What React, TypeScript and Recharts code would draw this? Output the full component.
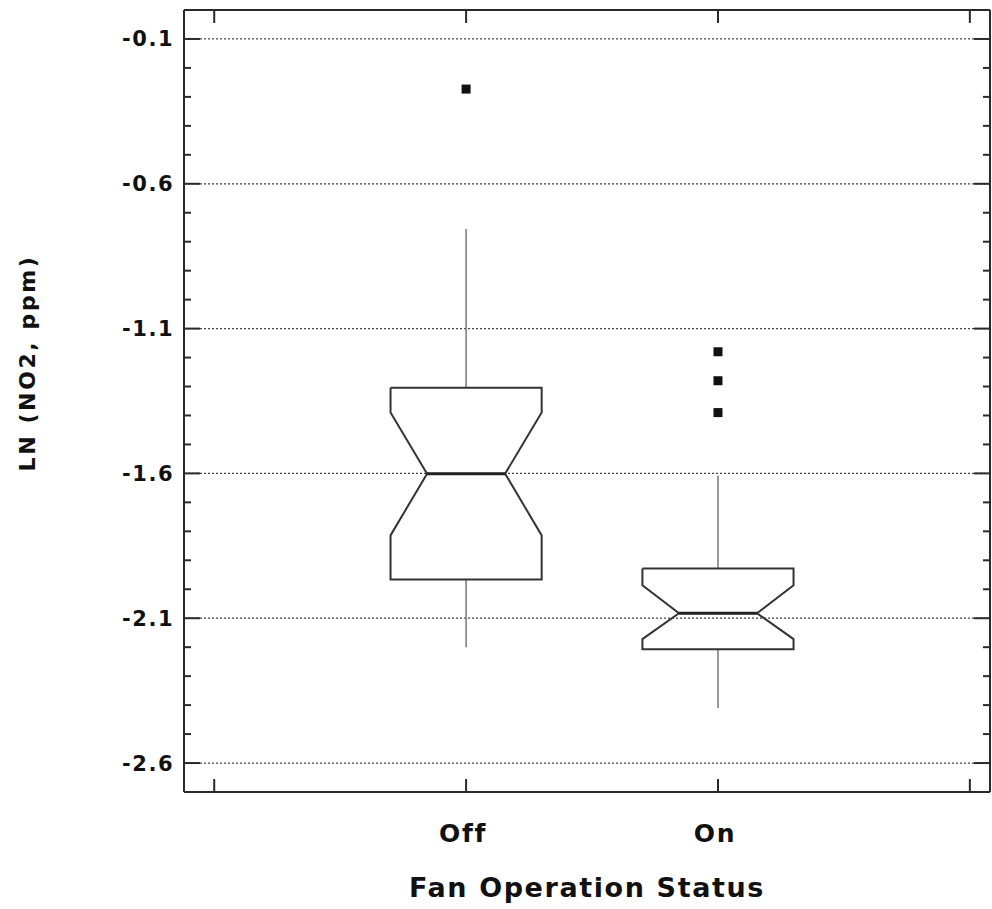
import React from "react";
import { ComposedChart, XAxis, YAxis, Line, Scatter, ReferenceLine, Label } from "recharts";

// category positions on the numeric x scale
const categories = ["Off", "On"];
const catX = [1, 2];
const xTicks = [0, 1, 2, 3];

// box statistics
const whiskerLo = [-2.2, -2.41];
const q1 = [-1.966, -2.207];
const notchLo = [-1.814, -2.172];
const median = [-1.601, -2.083];
const notchHi = [-1.39, -1.986];
const q3 = [-1.304, -1.928];
const whiskerHi = [-0.756, -1.608];
const outliers = [[-0.273], [-1.18, -1.28, -1.39]];

const majorTicks = [-2.6, -2.1, -1.6, -1.1, -0.6, -0.1];
const minorTicks = [
  -2.5, -2.4, -2.3, -2.2, -2.0, -1.9, -1.8, -1.7, -1.5, -1.4, -1.3, -1.2,
  -1.0, -0.9, -0.8, -0.7, -0.5, -0.4, -0.3, -0.2,
];
const yTicks = [...majorTicks, ...minorTicks].sort((a, b) => a - b);

const HALF_W = 0.3;
const WAIST = 0.155;
const FONT = "'DejaVu Sans', sans-serif";
const INK = "#2a2a2a";

function outline(i: number) {
  const x = catX[i];
  return [
    { x: x - HALF_W, y: q3[i] },
    { x: x + HALF_W, y: q3[i] },
    { x: x + HALF_W, y: notchHi[i] },
    { x: x + WAIST, y: median[i] },
    { x: x + HALF_W, y: notchLo[i] },
    { x: x + HALF_W, y: q1[i] },
    { x: x - HALF_W, y: q1[i] },
    { x: x - HALF_W, y: notchLo[i] },
    { x: x - WAIST, y: median[i] },
    { x: x - HALF_W, y: notchHi[i] },
    { x: x - HALF_W, y: q3[i] },
  ];
}

const LeftTick = (props: any) => {
  const { x, y, payload } = props;
  const major = majorTicks.includes(payload.value);
  return (
    <g>
      <line x1={x} x2={x + (major ? 16 : 7)} y1={y} y2={y} stroke={INK} strokeWidth={2} />
      {major && (
        <text x={x - 10} y={y} dy={7.5} textAnchor="end" fontFamily={FONT} fontWeight="bold"
          fontSize={21} letterSpacing={1.5} fill="#111">
          {payload.value.toFixed(1)}
        </text>
      )}
    </g>
  );
};

const RightTick = (props: any) => {
  const { x, y, payload } = props;
  const major = majorTicks.includes(payload.value);
  return <line x1={x} x2={x - (major ? 16 : 7)} y1={y} y2={y} stroke={INK} strokeWidth={2} />;
};

const BottomTick = (props: any) => {
  const { x, y, payload } = props;
  const idx = catX.indexOf(payload.value);
  return (
    <g>
      <line x1={x} x2={x} y1={y} y2={y - 13} stroke={INK} strokeWidth={2} />
      {idx >= 0 && (
        <text x={x - 3} y={y + 50} textAnchor="middle" fontFamily={FONT} fontWeight="bold"
          fontSize={25} letterSpacing={1.8} fill="#111">
          {categories[idx]}
        </text>
      )}
    </g>
  );
};

const TopTick = (props: any) => {
  const { x, y } = props;
  return <line x1={x} x2={x} y1={y} y2={y + 13} stroke={INK} strokeWidth={2} />;
};

const YTitle = (props: any) => {
  const { viewBox } = props;
  const cx = 27;
  const cy = viewBox.y + viewBox.height / 2 - 38;
  return (
    <text x={cx} y={cy} transform={`rotate(-90 ${cx} ${cy})`} textAnchor="middle" dy={8}
      fontFamily={FONT} fontWeight="bold" fontSize={22} letterSpacing={2.6} fill="#111">
      LN (NO2, ppm)
    </text>
  );
};

const XTitle = (props: any) => {
  const { viewBox } = props;
  const cx = viewBox.x + viewBox.width / 2;
  return (
    <text x={cx} y={897} textAnchor="middle" fontFamily={FONT} fontWeight="bold"
      fontSize={27} letterSpacing={1.6} fill="#111">
      Fan Operation Status
    </text>
  );
};

const Square = (props: any) => {
  const { cx, cy } = props;
  return <rect x={cx - 4.5} y={cy - 4.5} width={9} height={9} fill="#111" />;
};

export default function App() {
  const axisLine = { stroke: INK, strokeWidth: 2 };
  return (
    <div style={{ position: "absolute", left: 0, top: 0, background: "#fff" }}>
      <ComposedChart width={992} height={909} margin={{ top: 9, right: 1, bottom: 0, left: 0 }}>
        <XAxis type="number" dataKey="x" domain={[-0.12, 3.08]} ticks={xTicks} interval={0}
          height={117} tickSize={0} tickMargin={0} tick={<BottomTick />} axisLine={axisLine}
          allowDataOverflow>
          <Label content={<XTitle />} />
        </XAxis>
        <XAxis xAxisId="top" orientation="top" type="number" dataKey="x" domain={[-0.12, 3.08]}
          ticks={xTicks} interval={0} height={1} tickSize={0} tickMargin={0} tick={<TopTick />}
          axisLine={axisLine} allowDataOverflow />
        <YAxis type="number" domain={[-2.7, 0]} ticks={yTicks} interval={0} width={184}
          tickSize={0} tickMargin={0} tick={<LeftTick />} axisLine={axisLine} allowDataOverflow>
          <Label content={<YTitle />} />
        </YAxis>
        <YAxis yAxisId="right" orientation="right" type="number" domain={[-2.7, 0]} ticks={yTicks}
          interval={0} width={1} tickSize={0} tickMargin={0} tick={<RightTick />}
          axisLine={axisLine} allowDataOverflow />

        {majorTicks.map((v) => (
          <ReferenceLine key={v} y={v} stroke="#444" strokeWidth={1.2} strokeDasharray="2 2" />
        ))}

        {catX.map((x, i) => (
          <Line key={`wh${i}`} data={[{ x, y: q3[i] }, { x, y: whiskerHi[i] }]} dataKey="y"
            stroke="#777" strokeWidth={1.5} dot={false} activeDot={false} isAnimationActive={false} />
        ))}
        {catX.map((x, i) => (
          <Line key={`wl${i}`} data={[{ x, y: q1[i] }, { x, y: whiskerLo[i] }]} dataKey="y"
            stroke="#777" strokeWidth={1.5} dot={false} activeDot={false} isAnimationActive={false} />
        ))}
        {catX.map((x, i) => (
          <Line key={`box${i}`} data={outline(i)} dataKey="y" stroke="#333" strokeWidth={2}
            dot={false} activeDot={false} isAnimationActive={false} />
        ))}
        {catX.map((x, i) => (
          <Line key={`med${i}`} data={[{ x: x - WAIST, y: median[i] }, { x: x + WAIST, y: median[i] }]}
            dataKey="y" stroke="#222" strokeWidth={3} dot={false} activeDot={false}
            isAnimationActive={false} />
        ))}
        {catX.map((x, i) => (
          <Scatter key={`out${i}`} data={outliers[i].map((y) => ({ x, y }))} dataKey="y"
            shape={<Square />} isAnimationActive={false} />
        ))}
      </ComposedChart>
    </div>
  );
}
